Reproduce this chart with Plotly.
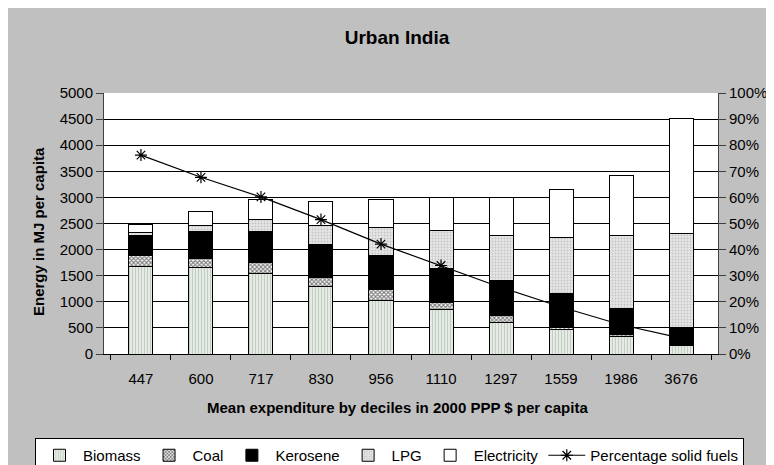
import plotly.graph_objects as go

# expenditure deciles (2000 PPP $ per capita)
deciles = ["447", "600", "717", "830", "956", "1110", "1297", "1559", "1986", "3676"]

# energy in MJ per capita, by fuel
biomass = [1678, 1648, 1533, 1284, 1021, 849, 594, 466, 330, 170]
coal = [205, 178, 222, 184, 211, 140, 140, 51, 40, 15]
kerosene = [383, 523, 594, 626, 657, 645, 670, 638, 511, 320]
lpg = [64, 115, 237, 370, 525, 734, 868, 1086, 1391, 1800]
electricity = [160, 268, 370, 448, 542, 621, 728, 920, 1149, 2216]

# share of solid fuels (right axis)
pct_solid = [0.762, 0.677, 0.602, 0.515, 0.421, 0.339, 0.255, 0.180, 0.112, 0.061]

W, H = 774, 465
L, R, T, B = 96, 64, 85, 119
PW, PH = W - L - R, H - T - B
FONT = "Arial, Liberation Sans, sans-serif"


# pixel -> paper coordinates (figure pixels, top-left origin)
def px(x):
    return (x - L) / PW


def py(y):
    return (H - B - y) / PH


fig = go.Figure()

outline = dict(color="black", width=1)
fig.add_trace(go.Bar(x=deciles, y=biomass, name="Biomass",
                     marker=dict(color="white", line=outline,
                                 pattern=dict(shape="|", fgcolor="#849E84", bgcolor="white",
                                              size=3, solidity=0.62))))
fig.add_trace(go.Bar(x=deciles, y=coal, name="Coal",
                     marker=dict(color="white", line=outline,
                                 pattern=dict(shape="x", fgcolor="black", bgcolor="white",
                                              size=3, solidity=0.6))))
fig.add_trace(go.Bar(x=deciles, y=kerosene, name="Kerosene",
                     marker=dict(color="black", line=outline)))
fig.add_trace(go.Bar(x=deciles, y=lpg, name="LPG",
                     marker=dict(color="#E4E4E4", line=outline,
                                 pattern=dict(shape=".", fgcolor="#A0A0A0", bgcolor="#E6E6E6",
                                              size=3, solidity=0.3))))
fig.add_trace(go.Bar(x=deciles, y=electricity, name="Electricity",
                     marker=dict(color="white", line=outline)))

# markers only drawn on the first six points, like the original
mk_colors = ["black"] * 6 + ["rgba(0,0,0,0)"] * 4
fig.add_trace(go.Scatter(x=deciles, y=pct_solid, name="Percentage solid fuels",
                         yaxis="y2", mode="lines+markers",
                         line=dict(color="black", width=1.2),
                         marker=dict(symbol="asterisk-open", size=10, color=mk_colors,
                                     line=dict(width=1.2))))

fig.update_layout(
    width=W, height=H,
    margin=dict(l=L, r=R, t=T, b=B, autoexpand=False),
    paper_bgcolor="#C0C0C0",
    plot_bgcolor="white",
    barmode="stack",
    bargap=0.6,
    font=dict(family=FONT, size=15, color="black"),
    title=dict(text="<b>Urban India</b>", font=dict(size=19),
               x=389 / W, xref="container", xanchor="center",
               y=1 - 29 / H, yref="container", yanchor="middle"),
    xaxis=dict(type="category", showline=True, linecolor="black", linewidth=1,
               ticks="outside", tickson="boundaries", ticklen=5, tickcolor="black",
               ticklabelstandoff=11, showgrid=False),
    yaxis=dict(range=[0, 5000], dtick=500, showline=True, linecolor="#404040",
               ticks="outside", ticklen=7, tickcolor="#404040",
               gridcolor="black", gridwidth=1, zeroline=False),
    yaxis2=dict(range=[0, 1], dtick=0.1, tickformat=".0%", overlaying="y", side="right",
                showline=True, linecolor="#404040", ticks="outside", ticklen=7,
                tickcolor="#404040", showgrid=False, zeroline=False),
    showlegend=True,
    legend=dict(orientation="h", traceorder="normal", x=px(27), xanchor="left",
                y=py(430), yanchor="top", bgcolor="white", bordercolor="black",
                borderwidth=1, itemwidth=37, font=dict(size=15)),
    annotations=[
        dict(text="<b>Energy in MJ per capita</b>", textangle=-90, showarrow=False,
             xref="paper", yref="paper", x=px(30), y=py(224),
             xanchor="center", yanchor="middle", font=dict(size=15)),
        dict(text="<b>Mean expenditure by deciles in 2000 PPP $ per capita</b>",
             showarrow=False, xref="paper", yref="paper", x=px(389), y=py(399),
             xanchor="center", yanchor="middle", font=dict(size=15)),
    ],
)

fig.write_html("out.html")
